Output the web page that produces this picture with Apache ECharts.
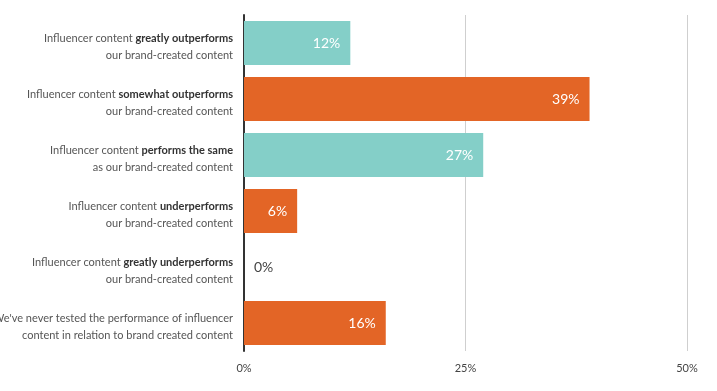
<!DOCTYPE html>
<html><head><meta charset="utf-8">
<script src="https://cdn.jsdelivr.net/npm/echarts@6/dist/echarts.min.js"></script>
<style>html,body{margin:0;padding:0;background:#fff}#c{width:717px;height:391px}</style>
</head><body><div id="c"></div>
<script>
var lineOneRegular = ['Influencer content ', 'Influencer content ', 'Influencer content ', 'Influencer content ', 'Influencer content ', "We've never tested the performance of influencer"];
var lineOneBold = ['greatly outperforms', 'somewhat outperforms', 'performs the same', 'underperforms', 'greatly underperforms', ''];
var lineTwo = ['our brand-created content', 'our brand-created content', 'as our brand-created content', 'our brand-created content', 'our brand-created content', 'content in relation to brand created content'];
var values = [12, 39, 27, 6, 0, 16];
var barColors = ['#84CFC8', '#E36526', '#84CFC8', '#E36526', '#E36526', '#E36526'];
var tickValues = [0, 25, 50];

var categories = values.map(function (v, i) { return String(i); });
var chart = echarts.init(document.getElementById('c'));
var font = 'Lato, "Open Sans", sans-serif';
chart.setOption({
  animation: false,
  grid: { left: 244, right: 30, top: 15, height: 336, containLabel: false, outerBoundsMode: 'none' },
  xAxis: {
    type: 'value', min: 0, max: 50, interval: 25,
    axisLine: { show: false }, axisTick: { show: false },
    splitLine: { show: true, lineStyle: { color: '#cfcfcf', width: 1 } },
    axisLabel: { formatter: '{value}%', color: '#444', fontFamily: font, fontSize: 11, margin: 12 }
  },
  yAxis: {
    type: 'category', inverse: true, data: categories,
    axisLine: { show: true, lineStyle: { color: '#333', width: 2 } },
    axisTick: { show: false },
    axisLabel: {
      margin: 11, align: 'right',
      formatter: function (v) {
        var i = +v;
        return '{n|' + lineOneRegular[i] + '}' + (lineOneBold[i] ? '{b|' + lineOneBold[i] + '}' : '') + '\n{n|' + lineTwo[i] + '}';
      },
      rich: {
        n: { fontFamily: font, fontSize: 11, color: '#555', lineHeight: 17, padding: [7, 0, 0, 0] },
        b: { fontFamily: font, fontSize: 11, fontWeight: 'bold', color: '#333', lineHeight: 17, padding: [7, 0, 0, 0] }
      }
    }
  },
  series: [{
    type: 'bar', barWidth: 44,
    data: values.map(function (v, i) {
      var d = { value: v, itemStyle: { color: barColors[i] } };
      if (v === 0) d.label = { position: 'right', color: '#444', distance: 10 };
      return d;
    }),
    label: {
      show: true, position: 'insideRight', distance: 10, formatter: '{c}%',
      color: '#fff', fontFamily: font, fontSize: 14
    }
  }]
});
</script></body></html>
